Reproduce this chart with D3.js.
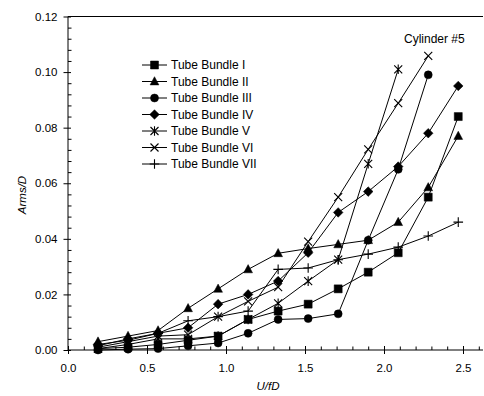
<!DOCTYPE html>
<html><head><meta charset="utf-8">
<script src="https://cdn.jsdelivr.net/npm/d3@7/dist/d3.min.js"></script>
<style>
html,body{margin:0;padding:0;background:#fff;}
svg{display:block;font-family:"Liberation Sans",Arial,sans-serif;}
</style></head>
<body>
<svg id="chart" width="484" height="396"></svg>
<script>
const xVals = [0.19,0.38,0.57,0.76,0.95,1.14,1.33,1.52,1.71,1.90,2.09,2.28,2.47];
const seriesNames = ["Tube Bundle I","Tube Bundle II","Tube Bundle III","Tube Bundle IV","Tube Bundle V","Tube Bundle VI","Tube Bundle VII"];
const bundle1 = [0.0005,0.001,0.002,0.0035,0.005,0.011,0.014,0.0165,0.022,0.028,0.035,0.055,0.084];
const bundle2 = [0.003,0.005,0.007,0.015,0.022,0.029,0.0348,0.0365,0.038,0.0395,0.046,0.0585,0.077];
const bundle3 = [0.0,0.0003,0.0005,0.0015,0.0025,0.006,0.011,0.0113,0.013,0.0395,0.065,0.099];
const bundle4 = [0.002,0.0035,0.006,0.008,0.0165,0.020,0.0248,0.035,0.0495,0.057,0.066,0.078,0.095];
const bundle5 = [0.0005,0.002,0.004,0.004,0.005,0.011,0.0168,0.0248,0.0325,0.067,0.101];
const bundle6 = [0.001,0.003,0.005,0.0055,0.012,0.0175,0.0226,0.039,0.055,0.0722,0.0888,0.1058];
const bundle7 = [0.0015,0.004,0.006,0.0105,0.012,0.014,0.029,0.0295,0.0325,0.0345,0.037,0.041,0.046];
const markers = ["square","triangle","circle","diamond","asterisk","x","plus"];
const xTicks = [0.0,0.5,1.0,1.5,2.0,2.5];
const yTicks = [0.00,0.02,0.04,0.06,0.08,0.10,0.12];

const allSeries = [bundle1,bundle2,bundle3,bundle4,bundle5,bundle6,bundle7];
const svg = d3.select("#chart");
const L = 68, R = 483, T = 16.5, B = 350;
const x = d3.scaleLinear().domain([0, 2.5]).range([L, 463]);
const y = d3.scaleLinear().domain([0, 0.12]).range([B, T]);

function markerPath(type, s) {
  switch (type) {
    case "square": return `M${-s},${-s}H${s}V${s}H${-s}Z`;
    case "triangle": return `M0,${-s*1.2}L${s*1.1},${s*0.85}L${-s*1.1},${s*0.85}Z`;
    case "circle": return `M${s},0A${s},${s} 0 1,1 ${-s},0A${s},${s} 0 1,1 ${s},0Z`;
    case "diamond": return `M0,${-s*1.2}L${s*1.2},0L0,${s*1.2}L${-s*1.2},0Z`;
    case "x": return `M${-s},${-s}L${s},${s}M${-s},${s}L${s},${-s}`;
    case "asterisk": return `M${-s},${-s}L${s},${s}M${-s},${s}L${s},${-s}M0,${-s*1.2}V${s*1.2}`;
    case "plus": return `M${-s*1.2},0H${s*1.2}M0,${-s*1.2}V${s*1.2}`;
  }
}
const filled = t => ["square","triangle","circle","diamond"].includes(t);
function drawMarker(g, type, cx, cy) {
  g.append("path").attr("d", markerPath(type, 4))
    .attr("transform", `translate(${cx},${cy})`)
    .attr("fill", filled(type) ? "#000" : "none")
    .attr("stroke", "#000").attr("stroke-width", filled(type) ? 0.5 : 1.1);
}

// axes lines
svg.append("line").attr("x1", L).attr("x2", R).attr("y1", B).attr("y2", B).attr("stroke", "#000");
svg.append("line").attr("x1", L).attr("x2", R).attr("y1", T).attr("y2", T).attr("stroke", "#000");
svg.append("line").attr("x1", L).attr("x2", L).attr("y1", T).attr("y2", B).attr("stroke", "#000");

// x axis
const xMinor = d3.range(1, 27).map(i => i / 10).filter(v => Math.abs(v*2 - Math.round(v*2)) > 1e-6);
svg.append("g").attr("transform", `translate(0,${B})`)
  .call(d3.axisBottom(x).tickValues(xMinor).tickSize(0).tickFormat(""))
  .call(g => g.select(".domain").remove())
  .call(g => g.selectAll(".tick line").attr("y1", 0).attr("y2", -3.5).attr("stroke", "#000"));
svg.append("g").attr("transform", `translate(0,${B})`)
  .call(d3.axisBottom(x).tickValues(xTicks).tickSize(4).tickPadding(10).tickFormat(d3.format(".1f")))
  .call(g => g.select(".domain").remove())
  .call(g => g.selectAll(".tick line").attr("y1", -4).attr("y2", 4).attr("stroke", "#000"))
  .call(g => g.selectAll(".tick text").attr("font-size", 11.5).attr("fill", "#000").attr("font-family", "Liberation Sans, Arial, sans-serif"));

// y axis
const yMinor = d3.range(1, 30).map(i => i * 0.004).filter(v => Math.abs(v/0.02 - Math.round(v/0.02)) > 1e-6);
svg.append("g").attr("transform", `translate(${L},0)`)
  .call(d3.axisLeft(y).tickValues(yMinor).tickSize(0).tickFormat(""))
  .call(g => g.select(".domain").remove())
  .call(g => g.selectAll(".tick line").attr("x1", 0).attr("x2", 3.5).attr("stroke", "#000"));
svg.append("g").attr("transform", `translate(${L},0)`)
  .call(d3.axisLeft(y).tickValues(yTicks).tickSize(4.5).tickPadding(6).tickFormat(d3.format(".2f")))
  .call(g => g.select(".domain").remove())
  .call(g => g.selectAll(".tick line").attr("x1", -4.5).attr("x2", 3).attr("stroke", "#000"))
  .call(g => g.selectAll(".tick text").attr("font-size", 11.5).attr("fill", "#000").attr("font-family", "Liberation Sans, Arial, sans-serif"));

// axis titles
svg.append("text").attr("x", 268).attr("y", 390).attr("text-anchor", "middle")
  .attr("font-size", 11.5).attr("font-style", "italic").text("U/fD");
svg.append("text").attr("transform", "translate(26,195) rotate(-90)").attr("text-anchor", "middle")
  .attr("font-size", 11.5).attr("font-style", "italic").text("Arms/D");

// series
const line = d3.line().x(d => x(d[0])).y(d => y(d[1]));
allSeries.forEach((vals, i) => {
  const pts = vals.map((v, j) => [xVals[j], v]);
  const g = svg.append("g");
  g.append("path").attr("d", line(pts)).attr("fill", "none").attr("stroke", "#000").attr("stroke-width", 1);
  pts.forEach(p => drawMarker(g, markers[i], x(p[0]), y(p[1])));
});

// legend
const lg = svg.append("g");
seriesNames.forEach((name, i) => {
  const cy = 65 + i * 16.5;
  lg.append("line").attr("x1", 142).attr("x2", 167).attr("y1", cy).attr("y2", cy).attr("stroke", "#000");
  drawMarker(lg, markers[i], 154.5, cy);
  lg.append("text").attr("x", 171).attr("y", cy + 4.2).attr("font-size", 12).text(name);
});

svg.append("text").attr("x", 404).attr("y", 43).attr("font-size", 12).text("Cylinder #5");
</script>
</body></html>
